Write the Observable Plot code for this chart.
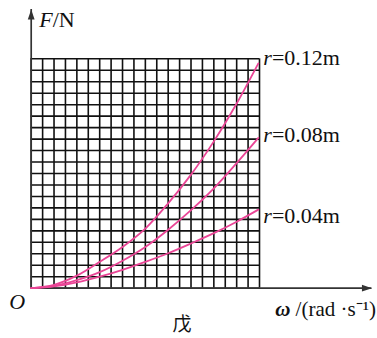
<!DOCTYPE html>
<html><head><meta charset="utf-8">
<script src="https://cdn.jsdelivr.net/npm/d3@7"></script>
<script src="https://cdn.jsdelivr.net/npm/@observablehq/plot@0.6"></script>
<style>body{margin:0;background:#fff} svg{display:block}</style>
</head><body><div id="chart"></div>
<script>
// grid ticks (20 x 20 squares)
const gridTicks = [0,1,2,3,4,5,6,7,8,9,10,11,12,13,14,15,16,17,18,19,20];
// curves (grid units)
const omegaValues = [0, 2, 4, 6, 8, 10, 12, 14, 16, 18, 19.9];
const force012 = [0, 0.3, 1.1, 2.3, 3.6, 5.2, 7.4, 9.9, 12.8, 16.1, 19.6];
const force008 = [0, 0.2, 0.7, 1.4, 2.4, 3.6, 5.1, 6.8, 8.7, 10.9, 13.1];
const force004 = [0, 0.15, 0.5, 1.0, 1.6, 2.3, 3.05, 3.9, 4.8, 5.8, 6.85];
const seriesLabels = ["r=0.12m", "r=0.08m", "r=0.04m"];
const axisLabels = {y: "F/N", x: "ω /(rad ·s⁻¹)", origin: "O"};
const caption = "戊";
const axisExtent = {omega: 29.85, force: 24.3};

const series = [force012, force008, force004];
const rows = series.flatMap((f, i) => omegaValues.map((w, j) => ({w, F: f[j], s: seriesLabels[i]})));
const ends = series.map((f, i) => ({w: omegaValues[omegaValues.length - 1], F: f[f.length - 1], s: seriesLabels[i]}));
const labelShift = [-5, -3, 6];

const arrowHead = {draw(ctx) { ctx.moveTo(0, 0); ctx.lineTo(3.4, 10); ctx.lineTo(-3.4, 10); ctx.closePath(); }};
const serif = "'Liberation Serif','Times New Roman',serif";
const axisColor = "#333";

const chart = Plot.plot({
  width: 377, height: 338,
  x: {domain: [0, 20], range: [30.7, 259], axis: null},
  y: {domain: [0, 20], range: [287.7, 58.3], axis: null},
  style: {fontFamily: serif, background: "#fff"},
  marks: [
    Plot.ruleX(gridTicks, {x: d => d, y1: 0, y2: 20, stroke: "#111", strokeWidth: 1.6}),
    Plot.ruleY(gridTicks, {y: d => d, x1: 0, x2: 20, stroke: "#111", strokeWidth: 1.6}),
    Plot.ruleY([0], {x1: 0, x2: axisExtent.omega, stroke: axisColor, strokeWidth: 1.7}),
    Plot.ruleX([0], {y1: 0, y2: axisExtent.force, stroke: axisColor, strokeWidth: 1.7}),
    Plot.dot([{x: axisExtent.omega, y: 0}], {x: "x", y: "y", symbol: arrowHead, fill: axisColor, stroke: "none", rotate: 90}),
    Plot.dot([{x: 0, y: axisExtent.force}], {x: "x", y: "y", symbol: arrowHead, fill: axisColor, stroke: "none"}),
    Plot.line(rows, {x: "w", y: "F", z: "s", stroke: "#ea4596", strokeWidth: 1.8, curve: "catmull-rom"}),
    ...ends.map((e, i) => Plot.text([e], {x: "w", y: "F", text: "s", textAnchor: "start", dx: 5, dy: labelShift[i], fontSize: 22, fill: "#111", className: "rlab"})),
    Plot.text([axisLabels.y], {x: 0, y: axisExtent.force, text: d => d, textAnchor: "start", dx: 8, dy: 10, fontSize: 22, fill: "#111", className: "ylab"}),
    Plot.text([axisLabels.x], {x: axisExtent.omega, y: 0, text: d => d, textAnchor: "end", dx: 4, dy: 21, fontSize: 21, fill: "#111", className: "xlab"}),
    Plot.text([axisLabels.origin], {x: 0, y: 0, text: d => d, textAnchor: "end", dx: -6, dy: 14, fontSize: 22, fontStyle: "italic", fill: "#111"}),
    Plot.text([caption], {x: 13.2, y: 0, text: d => d, dy: 37, fontSize: 19, fontFamily: "'Noto Sans CJK SC',sans-serif", fill: "#111"})
  ]
});
document.getElementById("chart").append(chart);

// rich text: italic variable letters
function styleFirst(sel, attrs) {
  d3.select(chart).selectAll(sel).each(function() {
    const t = this.textContent; const el = d3.select(this); el.text("");
    const first = el.append("tspan").text(t[0]);
    for (const [k, v] of Object.entries(attrs)) first.attr(k, v);
    el.append("tspan").text(t.slice(1));
  });
}
styleFirst(".rlab text", {"font-style": "italic"});
styleFirst(".ylab text", {"font-style": "italic"});
styleFirst(".xlab text", {"font-style": "italic", "font-weight": "bold"});
</script></body></html>
